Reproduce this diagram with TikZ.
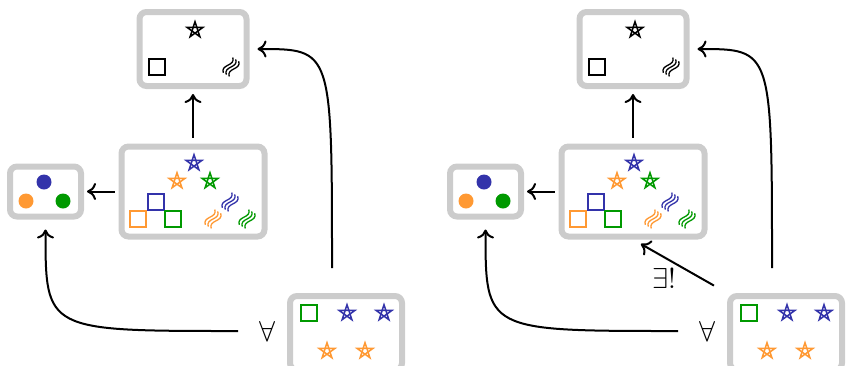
\documentclass[tikz,border=0pt]{standalone}
\usetikzlibrary{arrows.meta}
\definecolor{sblue}{RGB}{51,51,170}
\definecolor{sorange}{RGB}{255,153,51}
\definecolor{sgreen}{RGB}{0,153,0}
\definecolor{boxgray}{RGB}{204,204,204}

\tikzset{
  pics/pstar/.style={code={
    \draw[line width=0.75pt, #1] (90:8.3) -- (234:8.3) -- (18:8.3) -- (162:8.3) -- (306:8.3) -- cycle;
  }},
  pics/psq/.style={code={
    \draw[line width=0.7pt, #1] (-8,-8) rectangle (8,8);
  }},
  pics/pwave/.style={code={
    \foreach \d in {-3.5,0,3.5}
      \draw[line width=0.65pt, #1, rotate=58] (-9,\d) .. controls (-3,\d+7) and (3,\d-7) .. (9,\d);
  }},
}

\begin{document}
\begin{tikzpicture}[x=0.5pt, y=0.5pt,
  panel/.style={draw=boxgray, line width=3pt, rounded corners=3.5pt, fill=white, inner sep=0pt},
  link/.style={-{Computer Modern Rightarrow[length=4.5pt, width=8.5pt]}, line width=1pt},
  quant/.style={font=\fontsize{14.4}{16}\selectfont}]

\useasboundingbox (0,0) rectangle (854,-365);

% left panel
\node[panel, minimum width=53.5pt, minimum height=37pt] (top) at (193,-49) {};
\node[panel, minimum width=71.5pt, minimum height=45pt] (mid) at (193,-191.5) {};
\node[panel, minimum width=35.5pt, minimum height=25pt] (left) at (45.5,-191.5) {};
\node[panel, minimum width=56pt, minimum height=37pt] (bot) at (346,-333) {};

\pic at (195,-30) {pstar=black};
\pic at (157,-67) {psq=black};
\pic at (231,-67) {pwave=black};

\pic at (194,-163) {pstar=sblue};
\pic at (177,-181) {pstar=sorange};
\pic at (210,-181) {pstar=sgreen};
\pic at (156,-202) {psq=sblue};
\pic at (138,-219) {psq=sorange};
\pic at (173,-219) {psq=sgreen};
\pic at (230,-202) {pwave=sblue};
\pic at (213,-219) {pwave=sorange};
\pic at (247,-219) {pwave=sgreen};

\fill[sblue] (44,-182) circle (7.5);
\fill[sorange] (26,-201) circle (7.5);
\fill[sgreen] (63,-201) circle (7.5);

\pic at (309,-313) {psq=sgreen};
\pic at (347,-313) {pstar=sblue};
\pic at (384,-313) {pstar=sblue};
\pic at (327,-351) {pstar=sorange};
\pic at (365,-351) {pstar=sorange};

\node[quant] (all) at (267,-331) {$\forall$};
\coordinate (up) at (332,-268);
\coordinate (lo) at (238,-331);

\draw[link, shorten <=3pt, shorten >=2.5pt] (mid.north) -- (top.south);
\draw[link, shorten <=2pt, shorten >=1.5pt] (mid.west) -- (left.east);
\draw[link, shorten >=4pt] (up) .. controls (up |- top.east) .. (top.east);
\draw[link, shorten >=5pt] (lo) .. controls (left.south |- lo) .. (left.south);

% right panel
\node[panel, minimum width=53.5pt, minimum height=37pt] (top2) at (633,-49) {};
\node[panel, minimum width=71.5pt, minimum height=45pt] (mid2) at (633,-191.5) {};
\node[panel, minimum width=35.5pt, minimum height=25pt] (left2) at (485.5,-191.5) {};
\node[panel, minimum width=56pt, minimum height=37pt] (bot2) at (786,-333) {};

\pic at (635,-30) {pstar=black};
\pic at (597,-67) {psq=black};
\pic at (671,-67) {pwave=black};

\pic at (634,-163) {pstar=sblue};
\pic at (617,-181) {pstar=sorange};
\pic at (650,-181) {pstar=sgreen};
\pic at (596,-202) {psq=sblue};
\pic at (578,-219) {psq=sorange};
\pic at (613,-219) {psq=sgreen};
\pic at (670,-202) {pwave=sblue};
\pic at (653,-219) {pwave=sorange};
\pic at (687,-219) {pwave=sgreen};

\fill[sblue] (484,-182) circle (7.5);
\fill[sorange] (466,-201) circle (7.5);
\fill[sgreen] (503,-201) circle (7.5);

\pic at (749,-313) {psq=sgreen};
\pic at (787,-313) {pstar=sblue};
\pic at (824,-313) {pstar=sblue};
\pic at (767,-351) {pstar=sorange};
\pic at (805,-351) {pstar=sorange};

\node[quant] (all2) at (707,-331) {$\forall$};
\coordinate (up2) at (772,-268);
\coordinate (lo2) at (678,-331);

\draw[link, shorten <=3pt, shorten >=2.5pt] (mid2.north) -- (top2.south);
\draw[link, shorten <=2pt, shorten >=1.5pt] (mid2.west) -- (left2.east);
\draw[link, shorten >=4pt] (up2) .. controls (up2 |- top2.east) .. (top2.east);
\draw[link, shorten >=5pt] (lo2) .. controls (left2.south |- lo2) .. (left2.south);
\draw[link, shorten <=7.5pt, shorten >=4.5pt] (bot2.north west) -- (mid2.south);
\node[quant] (uniq) at (664,-278) {$\exists!$};

\end{tikzpicture}
\end{document}
